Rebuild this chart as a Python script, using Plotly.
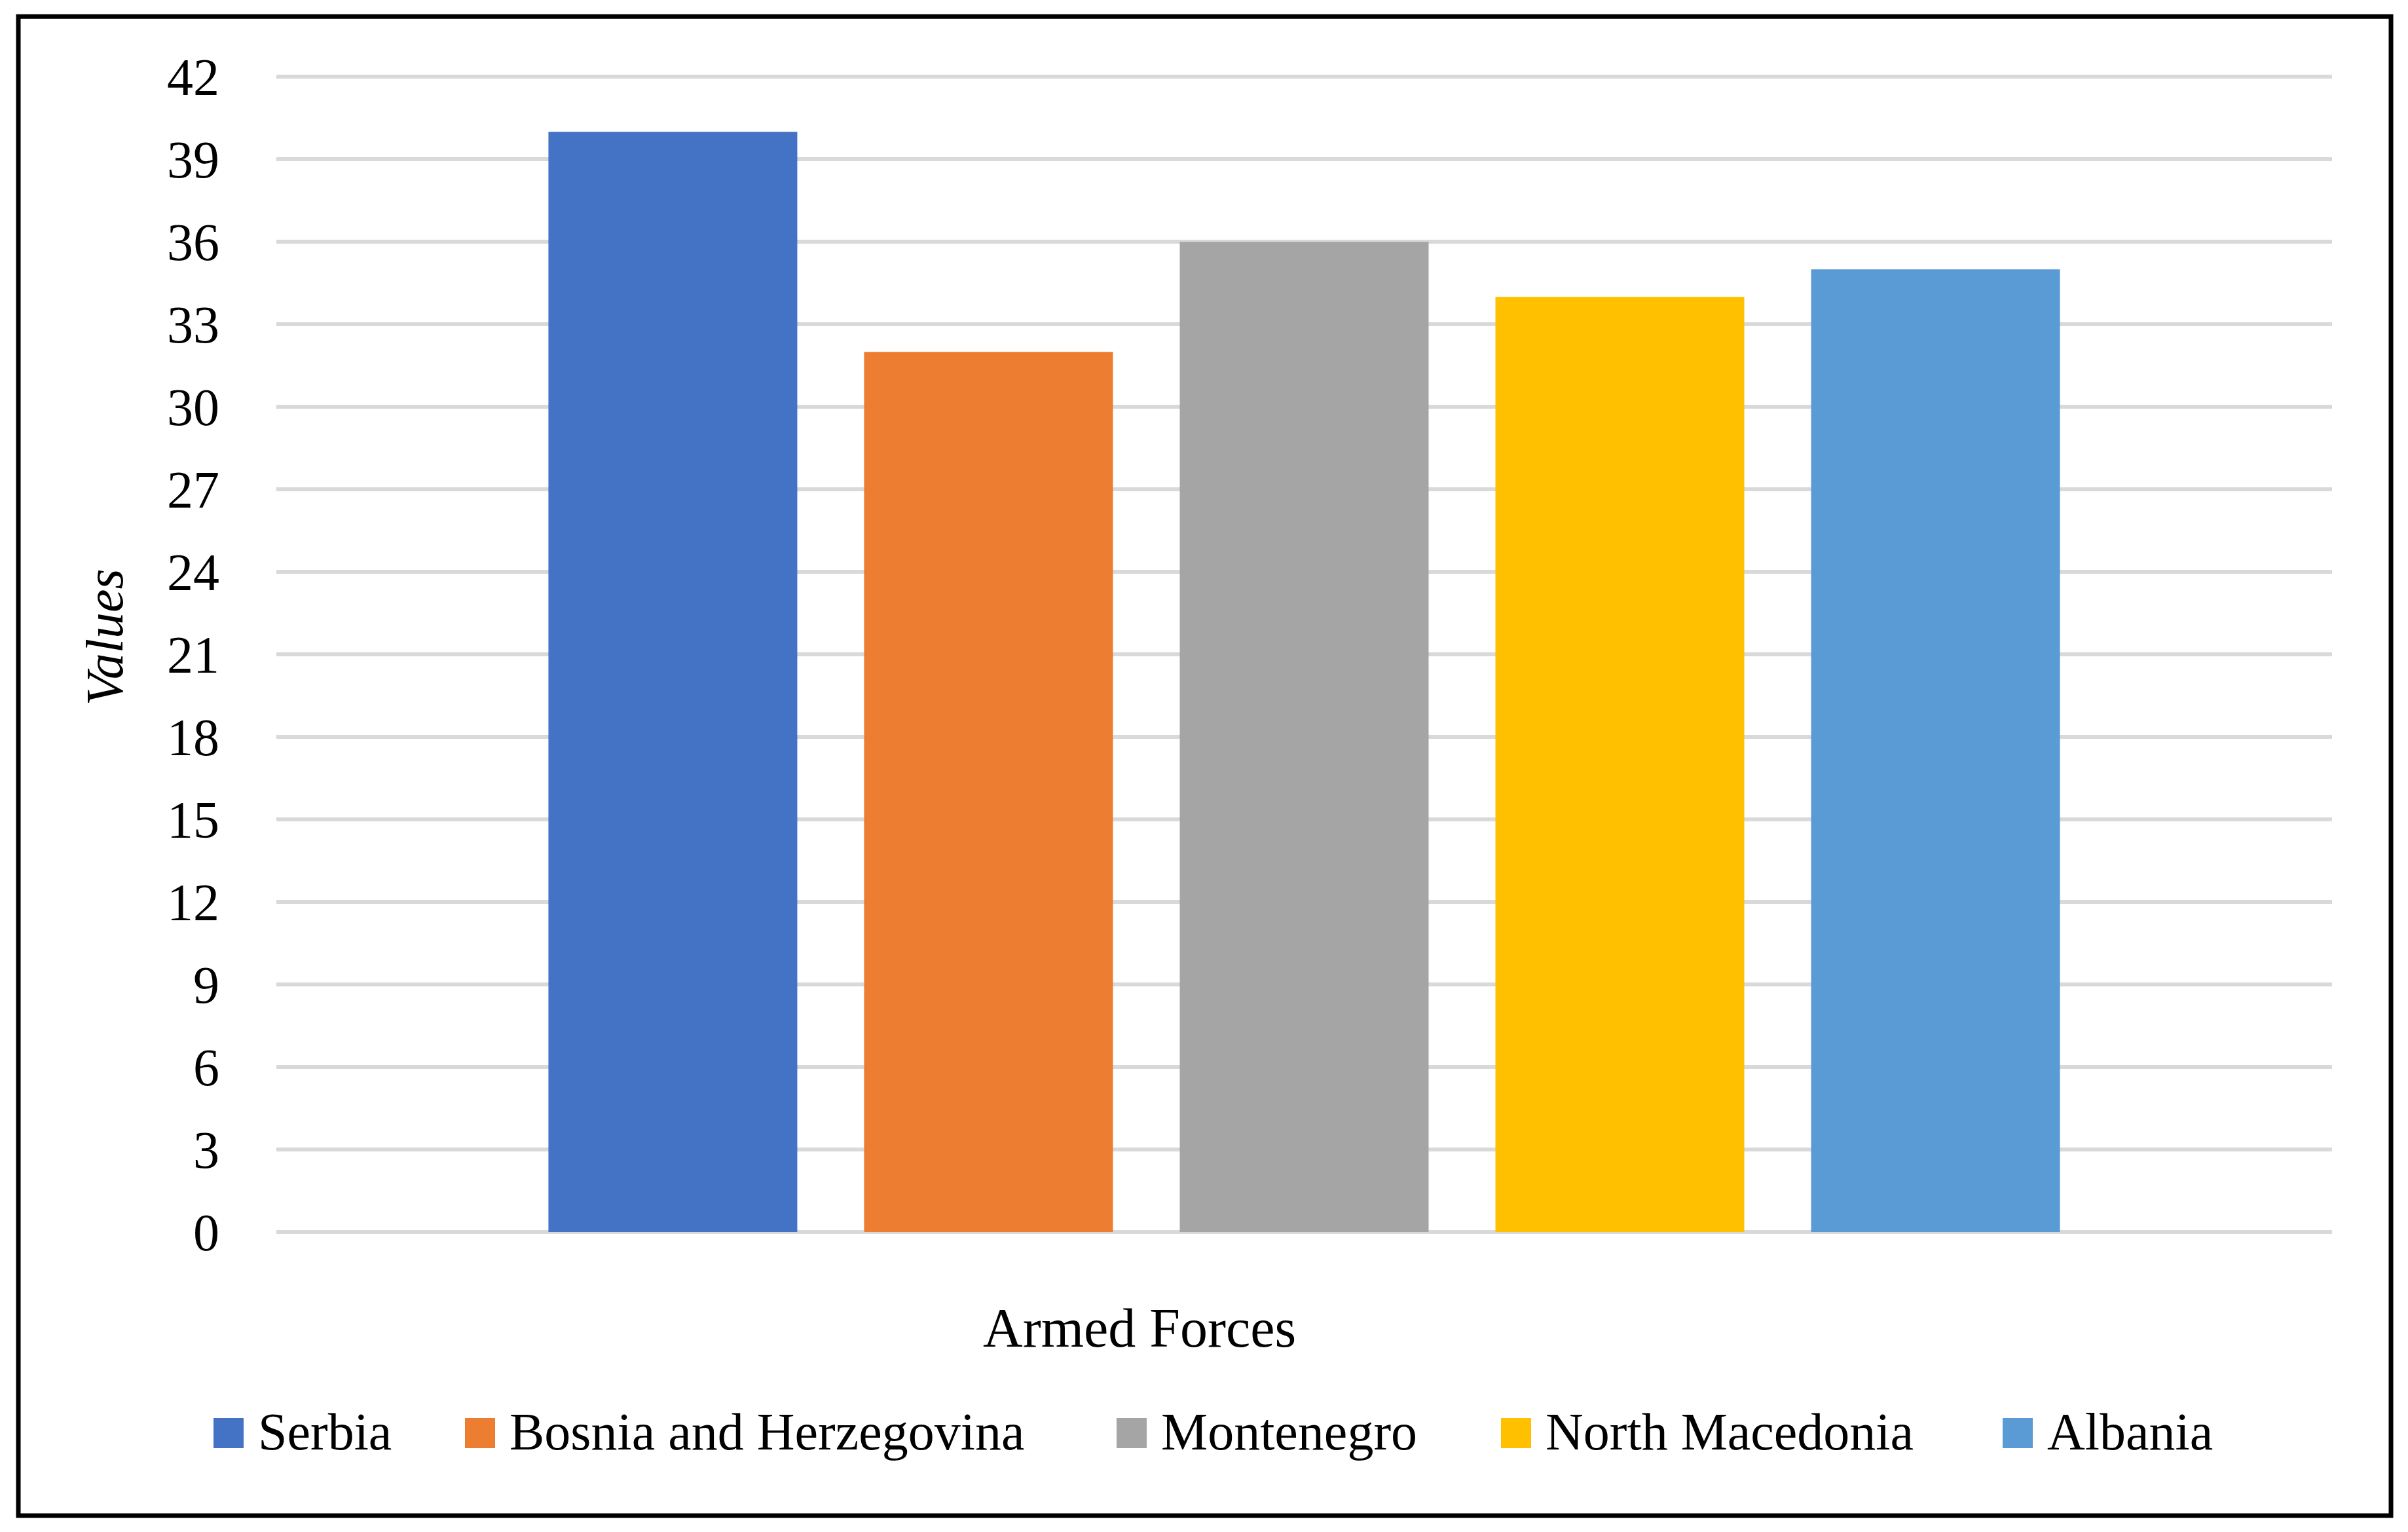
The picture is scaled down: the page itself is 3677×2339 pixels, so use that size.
import plotly.graph_objects as go

# ---- data ----
category = ["Armed Forces"]
series_names = ["Serbia", "Bosnia and Herzegovina", "Montenegro", "North Macedonia", "Albania"]
series_values = [40, 32, 36, 34, 35]
series_colors = ["#4472C4", "#ED7D31", "#A5A5A5", "#FFC000", "#5B9BD5"]
y_tick_values = list(range(0, 43, 3))
y_tick_labels = [str(v) for v in y_tick_values]

# ---- layout geometry (pixels) ----
W, H = 3677, 2339
Y_MAX_TICK = 42
Y_TOP = 42.15                      # a hair above the last tick so its gridline is drawn
PL, PR, PB = 422, 3561, 1881
PX_PER_UNIT = (PB - 117) / Y_MAX_TICK
PT = PB - Y_TOP * PX_PER_UNIT
FONT = "Liberation Serif"
FS = 80


def px_x(p):
    return (p - PL) / (PR - PL)


def px_y(p):
    return (PB - p) / (PB - PT)


fig = go.Figure()
for name, val, col in zip(series_names, series_values, series_colors):
    fig.add_trace(go.Bar(x=category, y=[val], name=name, marker=dict(color=col, line=dict(width=0)),
                         showlegend=False))

fig.update_layout(
    width=W, height=H, autosize=False,
    margin=dict(l=PL, r=W - PR, t=PT, b=H - PB, pad=0),
    paper_bgcolor="white", plot_bgcolor="white",
    barmode="group", bargap=0.2322, bargroupgap=0.2116,
    font=dict(family=FONT, size=FS, color="black"),
)
fig.update_xaxes(showticklabels=False, showgrid=False, zeroline=False, showline=False,
                 ticks="", range=[-0.5, 0.5])
fig.update_yaxes(range=[0, Y_TOP], tickmode="array", tickvals=y_tick_values, ticktext=y_tick_labels,
                 showgrid=True, gridcolor="#D9D9D9", gridwidth=6,
                 zeroline=True, zerolinecolor="#D9D9D9", zerolinewidth=6,
                 showline=False, ticks="outside", ticklen=70, tickcolor="rgba(0,0,0,0)",
                 tickfont=dict(family=FONT, size=FS, color="black"))

# axis titles
fig.add_annotation(text="Values", xref="paper", yref="paper", x=px_x(160), y=px_y(973),
                   textangle=-90, showarrow=False, xanchor="center", yanchor="middle",
                   font=dict(family=FONT, size=FS, color="black", style="italic"))
fig.add_annotation(text="Armed Forces", xref="paper", yref="paper", x=px_x(1740), y=px_y(2028),
                   showarrow=False, xanchor="center", yanchor="middle",
                   font=dict(family=FONT, size=84, color="black"))

# manual legend (large square swatches)
legend_marker_x = [326, 710, 1705, 2292, 3058]
SW = 46
LY_TOP, LY_BOT = 2165, 2211
for name, col, mx in zip(series_names, series_colors, legend_marker_x):
    fig.add_shape(type="rect", xref="paper", yref="paper",
                  x0=px_x(mx), x1=px_x(mx + SW), y0=px_y(LY_BOT), y1=px_y(LY_TOP),
                  fillcolor=col, line=dict(width=0))
    fig.add_annotation(text=name, xref="paper", yref="paper", x=px_x(mx + SW + 20), y=px_y(2186),
                       showarrow=False, xanchor="left", yanchor="middle",
                       font=dict(family=FONT, size=FS, color="black"))

# outer border
fig.add_shape(type="rect", xref="paper", yref="paper",
              x0=px_x(28), x1=px_x(3651), y0=px_y(2314), y1=px_y(25),
              line=dict(color="black", width=7), fillcolor="rgba(0,0,0,0)")

fig.write_html("out.html", config={"displayModeBar": False},
               post_script="document.body.style.margin='0';")
